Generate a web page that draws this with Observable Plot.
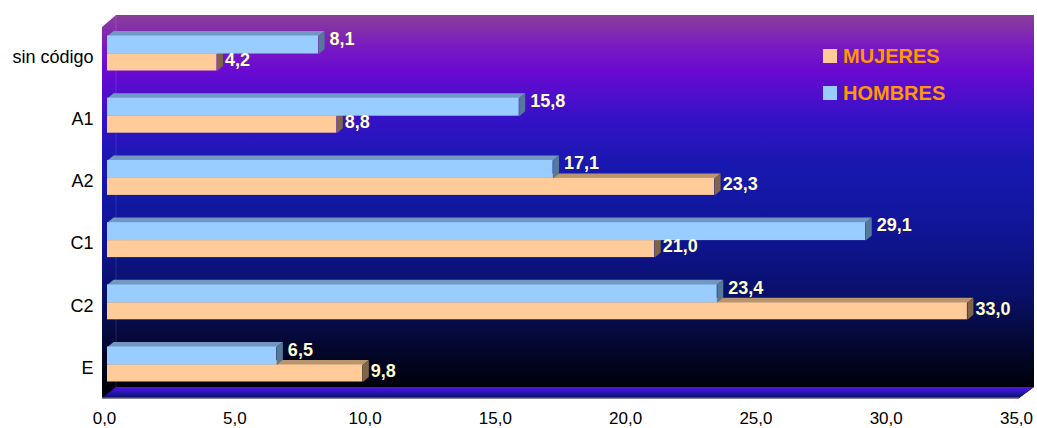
<!DOCTYPE html>
<html><head><meta charset="utf-8">
<script src="https://cdn.jsdelivr.net/npm/d3@7"></script>
<script src="https://cdn.jsdelivr.net/npm/@observablehq/plot@0.6"></script>
<style>
body{margin:0;background:#fff;}
#wrap{position:relative;width:1037px;height:428px;font-family:"Liberation Sans",Arial,sans-serif;}
.leg{position:absolute;left:823px;height:20px;display:flex;align-items:center;font-weight:bold;font-size:20px;color:#ff9900;}
.sw{width:14px;height:14px;margin-right:6px;}
</style></head><body><div id="wrap"></div>
<script>
// ---- data ----
const categories = ["sin código", "A1", "A2", "C1", "C2", "E"];
const hombres = [8.1, 15.8, 17.1, 29.1, 23.4, 6.5];
const mujeres = [4.2, 8.8, 23.3, 21.0, 33.0, 9.8];
const seriesNames = ["MUJERES", "HOMBRES"];
const seriesColors = ["#ffcc99", "#99ccff"];
const xTicks = [0, 5, 10, 15, 20, 25, 30, 35];

// ---- layout ----
const W = 1037, H = 428;
const mL = 104, mR = 21, mT = 22.4, mB = 32.4;
const pxX = (W - mL - mR) / 35, pxY = (H - mT - mB) / 6;
const DX = 6 / pxX, DY = 5 / pxY, HB = 18 / pxY, HO = 17 / pxY;
const fmt = d => d.toFixed(1).replace(".", ",");

const rowsM = mujeres.map((v, i) => ({i, v, y1: i, y2: i + HO}));
const rowsH = hombres.map((v, i) => ({i, v, y1: i - HB, y2: i}));

function topFace(rows) {
  return rows.flatMap(r => [
    {id: r.i, x: 0, y: r.y1}, {id: r.i, x: r.v, y: r.y1},
    {id: r.i, x: r.v + DX, y: r.y1 - DY}, {id: r.i, x: DX, y: r.y1 - DY}]);
}
function sideFace(rows) {
  return rows.flatMap(r => [
    {id: r.i, x: r.v, y: r.y1}, {id: r.i, x: r.v, y: r.y2},
    {id: r.i, x: r.v + DX, y: r.y2 - DY}, {id: r.i, x: r.v + DX, y: r.y1 - DY}]);
}

function box(index, scales, values, dim) {
  const ns = "http://www.w3.org/2000/svg";
  const el = (n, a) => { const e = document.createElementNS(ns, n); for (const k in a) e.setAttribute(k, a[k]); return e; };
  const g = el("g", {});
  const L = scales.x(0) - 2, R = scales.x(35) + 3;
  const B = scales.y(5.5) + 2.5, T = scales.y(-0.5) - 7.4;
  const ddx = 14, ddy = 11;
  const defs = el("defs", {});
  const lg = el("linearGradient", {id: "wallG", gradientUnits: "userSpaceOnUse", x1: 0, x2: 0, y1: T, y2: B - ddy});
  [[0, "#8b3f98"], [0.08, "#7a1cc0"], [0.15, "#6a0ad2"], [0.28, "#3412c6"], [0.4, "#1818b0"],
   [0.52, "#1217a0"], [0.62, "#0e148c"], [0.75, "#08106a"], [0.85, "#050a40"], [0.93, "#020520"], [1, "#00000c"]]
    .forEach(([o, c]) => lg.appendChild(el("stop", {offset: o, "stop-color": c})));
  const fg = el("linearGradient", {id: "floorG", gradientUnits: "userSpaceOnUse", x1: 0, x2: 0, y1: B - ddy, y2: B});
  [[0, "#5a10e0"], [0.4, "#2a18c0"], [1, "#0a0c60"]]
    .forEach(([o, c]) => fg.appendChild(el("stop", {offset: o, "stop-color": c})));
  defs.appendChild(lg); defs.appendChild(fg); g.appendChild(defs);
  g.appendChild(el("polygon", {fill: "url(#wallG)",
    points: `${L},${T + 12} ${L + ddx},${T} ${R + ddx + 1},${T} ${R + ddx + 1},${B - ddy} ${R},${B} ${L},${B}`}));
  g.appendChild(el("polygon", {fill: "url(#floorG)",
    points: `${L},${B} ${L + ddx},${B - ddy} ${R + ddx + 1},${B - ddy} ${R},${B}`}));
  g.appendChild(el("line", {x1: L + ddx, x2: L + ddx, y1: T, y2: B - ddy, stroke: "#ffffff", "stroke-opacity": 0.12}));
  g.appendChild(el("line", {x1: L, x2: R, y1: B, y2: B, stroke: "#5a5a70", "stroke-width": 1.5}));
  return g;
}

const chart = Plot.plot({
  width: W, height: H,
  marginLeft: mL, marginRight: mR, marginTop: mT, marginBottom: mB,
  style: {fontFamily: '"Liberation Sans", Arial, sans-serif', fontSize: "17px", color: "#000", background: "transparent"},
  x: {domain: [0, 35]},
  y: {domain: [5.5, -0.5]},
  marks: [
    box,
    Plot.line(topFace(rowsM), {x: "x", y: "y", z: "id", fill: "#b8956d", stroke: "none", dx: 3}),
    Plot.line(sideFace(rowsM), {x: "x", y: "y", z: "id", fill: "#806446", stroke: "none", dx: 3}),
    Plot.rect(rowsM, {x1: 0, x2: "v", y1: "y1", y2: "y2", fill: seriesColors[0], dx: 3}),
    Plot.line(topFace(rowsH), {x: "x", y: "y", z: "id", fill: "#7197c2", stroke: "none", dx: 3}),
    Plot.line(sideFace(rowsH), {x: "x", y: "y", z: "id", fill: "#56789a", stroke: "none", dx: 3}),
    Plot.rect(rowsH, {x1: 0, x2: "v", y1: "y1", y2: "y2", fill: seriesColors[1], dx: 3}),
    Plot.text(rowsH, {x: "v", y: "i", text: d => fmt(d.v), textAnchor: "start", dx: 14, dy: -15,
      fill: "#ffffcc", fontWeight: "bold", fontSize: 18}),
    Plot.text(rowsM, {x: "v", y: "i", text: d => fmt(d.v), textAnchor: "start", dx: 11, dy: 6,
      fill: "#ffffcc", fontWeight: "bold", fontSize: 18}),
    Plot.axisX(xTicks, {tickFormat: fmt, tickSize: 0, tickPadding: 16, fontSize: 17}),
    Plot.axisY(d3.range(categories.length), {tickFormat: i => categories[i], tickSize: 0, tickPadding: 11, dy: 3, fontSize: 18})
  ]
});
const wrap = document.getElementById("wrap");
wrap.appendChild(chart);
[0, 1].forEach(k => {
  const d = document.createElement("div");
  d.className = "leg";
  d.style.top = (k === 0 ? 46 : 83) + "px";
  d.innerHTML = `<span class="sw" style="background:${seriesColors[k]}"></span>${seriesNames[k]}`;
  wrap.appendChild(d);
});
</script>
</body></html>
